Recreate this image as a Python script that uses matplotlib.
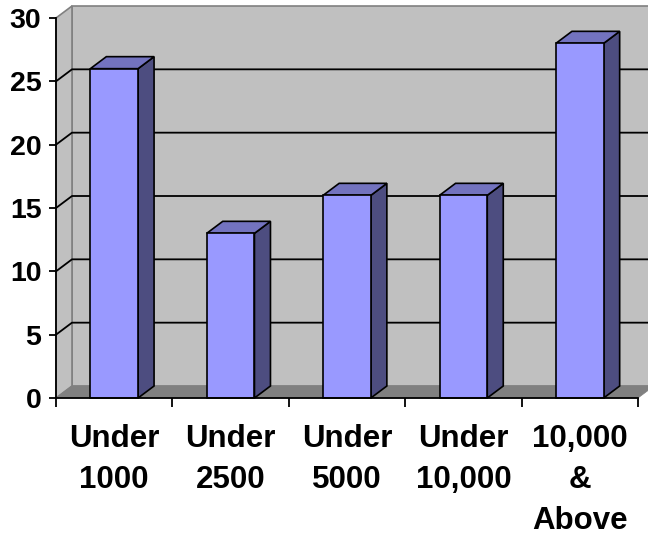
import matplotlib
matplotlib.use('Agg')
import matplotlib.pyplot as plt
from matplotlib.patches import Polygon
from matplotlib.lines import Line2D
from matplotlib.transforms import IdentityTransform

# chart data
categories = ['Under\n1000', 'Under\n2500', 'Under\n5000', 'Under\n10,000', '10,000\n&\nAbove']
values = [26, 13, 16, 16, 28]
y_ticks = [0, 5, 10, 15, 20, 25, 30]

plt.rcParams['font.family'] = ['Liberation Sans', 'DejaVu Sans']
plt.rcParams['font.weight'] = 'bold'

DPI = 100
DEPTH = (16, 12)      # pixel shift of the back plane (3D look)
BAR_W = 0.41          # bar width as a fraction of one category
WALL = '#C0C0C0'
FLOOR = '#808080'
FRONT = '#9999FF'
SIDE = '#4D4D80'
TOP = '#7373BF'

fig = plt.figure(figsize=(6.48, 5.35), dpi=DPI)
ax = fig.add_axes([56 / 648, 137 / 535, 582 / 648, 380 / 535])
n = len(values)
ax.set_xlim(0, n)
ax.set_ylim(y_ticks[0], y_ticks[-1])
ax.patch.set_visible(False)


def proj(x, y, z):
    """data (x, y) plus depth z (0 front, 1 back) -> display pixels"""
    px, py = ax.transData.transform((x, y))
    return (px + z * DEPTH[0], py + z * DEPTH[1])


def face(pts, zorder=1, **kw):
    poly = Polygon([proj(*p) for p in pts], closed=True, transform=IdentityTransform(),
                   clip_on=False, zorder=zorder, **kw)
    ax.add_artist(poly)


def line(pts, zorder=1.5, **kw):
    xy = [proj(*p) for p in pts]
    ln = Line2D([p[0] for p in xy], [p[1] for p in xy], transform=IdentityTransform(),
                clip_on=False, zorder=zorder, **kw)
    ax.add_artist(ln)


ymax = y_ticks[-1]
# walls and floor
face([(0, 0, 1), (n, 0, 1), (n, ymax, 1), (0, ymax, 1)], facecolor=WALL, edgecolor=FLOOR, lw=1.2)
face([(0, 0, 0), (0, ymax, 0), (0, ymax, 1), (0, 0, 1)], facecolor=WALL, edgecolor=FLOOR, lw=1.2)
face([(0, 0, 0), (n, 0, 0), (n, 0, 1), (0, 0, 1)], facecolor=FLOOR, edgecolor=FLOOR, lw=0.5)

# gridlines on the walls
for v in y_ticks[1:-1]:
    line([(0, v, 0), (0, v, 1), (n, v, 1)], color='black', lw=1.3)

# bars
for i, v in enumerate(values):
    x0 = i + 0.5 - BAR_W / 2
    x1 = i + 0.5 + BAR_W / 2
    kw = dict(edgecolor='black', lw=1.2, joinstyle='miter')
    face([(x1, 0, 0), (x1, v, 0), (x1, v, 1), (x1, 0, 1)], zorder=3, facecolor=SIDE, **kw)
    face([(x0, v, 0), (x1, v, 0), (x1, v, 1), (x0, v, 1)], zorder=3, facecolor=TOP, **kw)
    face([(x0, 0, 0), (x1, 0, 0), (x1, v, 0), (x0, v, 0)], zorder=3.1, facecolor=FRONT, **kw)

# front axes
for s in ['top', 'right']:
    ax.spines[s].set_visible(False)
for s in ['left', 'bottom']:
    ax.spines[s].set_linewidth(1.3)
    ax.spines[s].set_zorder(4)

ax.set_yticks(y_ticks)
ax.set_yticklabels([str(t) for t in y_ticks], fontsize=20.5, fontweight='bold')
ax.tick_params(axis='y', length=5, width=1.3, pad=5.5)

ax.set_xticks(range(n + 1))
ax.set_xticklabels([''] * (n + 1))
ax.tick_params(axis='x', which='major', length=6.5, width=1.3)
ax.set_xticks([i + 0.5 for i in range(n)], minor=True)
ax.set_xticklabels(categories, minor=True, fontsize=22.5, fontweight='bold', linespacing=1.48)
ax.tick_params(axis='x', which='minor', length=0, pad=18.5)

fig.savefig('out.png', dpi=DPI)
